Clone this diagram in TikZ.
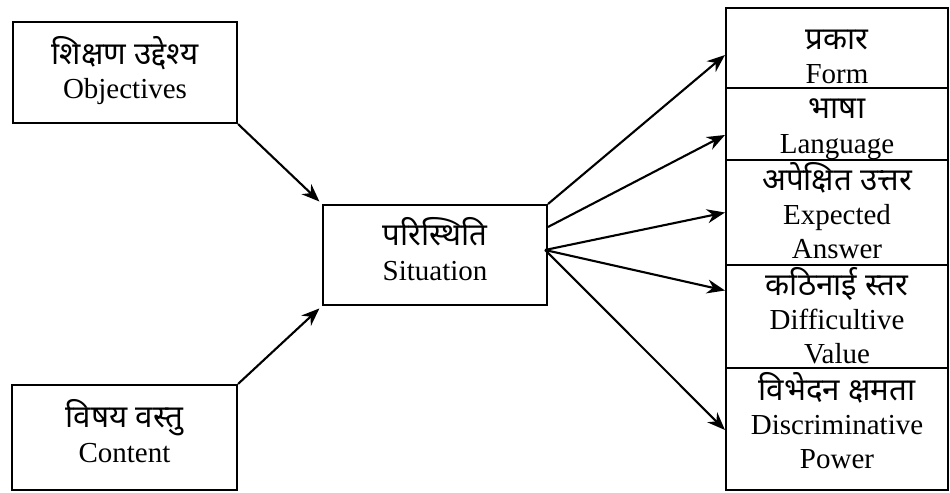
\documentclass[tikz,border=0pt]{standalone}
\usepackage{fontspec}
\setmainfont{Liberation Serif}
\newfontfamily\deva[Script=Devanagari,Scale=1.08]{Noto Sans}
\newcommand{\dv}[1]{{\deva\smash{#1}}}
\newcommand{\tb}[2]{\raisebox{#1}[0pt][0pt]{\begin{tabular}[t]{@{}c@{}}#2\end{tabular}}}
\usetikzlibrary{arrows.meta,calc}
\begin{document}
\begin{tikzpicture}[x=0.02cm,y=-0.02cm,
  box/.style={draw, line width=1.2pt, inner sep=0pt,
    font=\fontsize{16.5}{19.5}\selectfont},
  arr/.style={line width=1.2pt, -{Stealth[length=3.6mm,width=2.8mm]}}]
\useasboundingbox (0,0) rectangle (950,493);
\node[box, minimum width=4.48cm, minimum height=2.02cm] (obj) at (125,72.5)
  {\tb{4.75pt}{\dv{शिक्षण उद्देश्य}\\Objectives}};
\node[box, minimum width=4.5cm, minimum height=2.1cm] (cont) at (124.5,437.5)
  {\tb{5.55pt}{\dv{विषय वस्तु}\\Content}};
\node[box, minimum width=4.48cm, minimum height=2cm] (sit) at (435,255)
  {\tb{5.25pt}{\dv{परिस्थिति}\\Situation}};
\node[box, minimum width=4.44cm, minimum height=1.6cm] (r1) at (837,48)
  {\tb{-0.95pt}{\dv{प्रकार}\\Form}};
\node[box, minimum width=4.44cm, minimum height=1.44cm] (r2) at (837,124)
  {\tb{2.9pt}{\dv{भाषा}\\Language}};
\node[box, minimum width=4.44cm, minimum height=2.1cm] (r3) at (837,212.5)
  {\tb{12.6pt}{\dv{अपेक्षित उत्तर}\\Expected\\Answer}};
\node[box, minimum width=4.44cm, minimum height=2.06cm] (r4) at (837,316.5)
  {\tb{12.2pt}{\dv{कठिनाई स्तर}\\Difficultive\\Value}};
\node[box, minimum width=4.44cm, minimum height=2.44cm] (r5) at (837,429)
  {\tb{16.4pt}{\dv{विभेदन क्षमता}\\Discriminative\\Power}};
\coordinate (hub) at ($(sit.east)+(-3,-5)$);
\draw[arr, shorten >=2pt] (obj.south east) -- (sit.north west);
\draw[arr, shorten >=2pt] (cont.north east) -- (sit.south west);
\draw[arr] (sit.north east) -- ($(r1.west)+(0,7)$);
\draw[arr] ($(sit.north east)+(0,23)$) -- ($(r2.west)+(0,11)$);
\draw[arr] (hub) -- (r3.west);
\draw[arr] (hub) -- ($(r4.west)+(0,-26)$);
\draw[arr] (hub) -- ($(r5.west)+(0,1)$);
\end{tikzpicture}
\end{document}
